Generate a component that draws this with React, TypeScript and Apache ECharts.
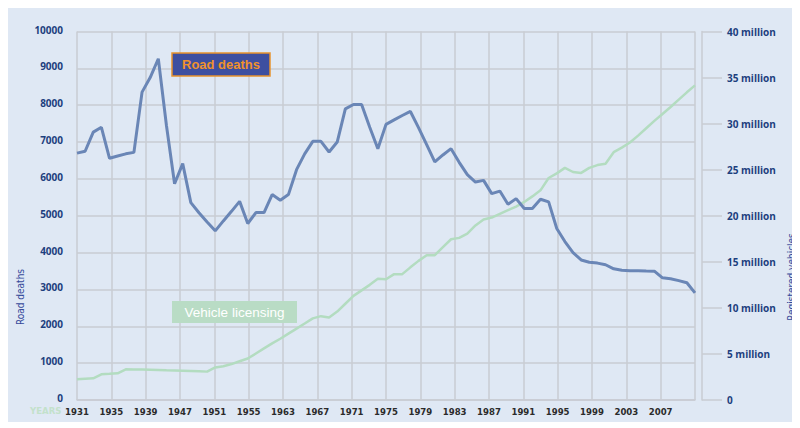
import React, { useEffect, useRef } from "react";
import * as echarts from "echarts";

// Yearly categories (data points)
const years: string[] = Array.from({ length: 77 }, (_, i) => String(1931 + i));

// Tick labels as printed on the reference's horizontal axis
const xTickLabels = [
  "1931", "1935", "1939", "1947", "1951", "1955", "1963", "1967", "1971", "1975",
  "1979", "1983", "1987", "1991", "1995", "1999", "2003", "2007", "",
];

// Road deaths (left axis), 1931–2007
const roadDeaths = [
  6700, 6750, 7270, 7400, 6560, 6620, 6680, 6720, 8355, 8750,
  9260, 7450, 5870, 6414, 5357, 5080, 4830, 4590, 4860, 5120,
  5390, 4790, 5085, 5085, 5574, 5420, 5574, 6250, 6680, 7019,
  7019, 6730, 7000, 7900, 8020, 8020, 7400, 6820, 7480, 7600,
  7720, 7830, 7390, 6930, 6460, 6650, 6820, 6450, 6115, 5915,
  5960, 5600, 5670, 5310, 5465, 5195, 5195, 5447, 5375, 4653,
  4300, 4000, 3800, 3740, 3715, 3670, 3560, 3520, 3510, 3505,
  3500, 3496, 3315, 3290, 3240, 3180, 2908,
];

// Registered vehicles in millions (right axis), 1931–2007
const vehiclesMillions = [
  2.24, 2.30, 2.35, 2.79, 2.84, 2.90, 3.33, 3.32, 3.30, 3.28,
  3.25, 3.22, 3.20, 3.17, 3.14, 3.11, 3.08, 3.54, 3.66, 3.90,
  4.20, 4.50, 5.05, 5.60, 6.15, 6.65, 7.20, 7.75, 8.30, 8.86,
  9.10, 8.96, 9.60, 10.45, 11.30, 11.90, 12.50, 13.15, 13.10, 13.66,
  13.66, 14.40, 15.10, 15.72, 15.72, 16.60, 17.45, 17.60, 18.05, 18.95,
  19.60, 19.80, 20.20, 20.60, 21.00, 21.50, 22.10, 22.76, 24.10, 24.60,
  25.20, 24.75, 24.65, 25.20, 25.50, 25.65, 26.90, 27.40, 27.95, 28.70,
  29.50, 30.30, 31.05, 31.80, 32.60, 33.40, 34.15,
];

const NAVY = "#1d3f7e";
const GRID = "#c9ccd3";
const FONT = "'Open Sans', 'DejaVu Sans', sans-serif";
const NARROW = "'Liberation Sans Narrow', 'DejaVu Sans Condensed', 'Open Sans', sans-serif";

export default function App() {
  const ref = useRef<HTMLDivElement>(null);

  useEffect(() => {
    if (!ref.current) return;
    const chart = echarts.init(ref.current, undefined, { renderer: "svg" });
    chart.setOption({
      animation: false,
      backgroundColor: "#dfe8f4",
      textStyle: { fontFamily: FONT },
      grid: { left: 69, right: 105, top: 23.5, bottom: 22, containLabel: false },
      xAxis: [
        {
          type: "category",
          data: years,
          boundaryGap: false,
          show: false,
        },
        {
          type: "category",
          data: xTickLabels,
          boundaryGap: false,
          position: "bottom",
          axisLine: { show: true, lineStyle: { color: GRID, width: 1.5 } },
          axisTick: { show: false },
          splitLine: { show: true, interval: 0, lineStyle: { color: GRID, width: 1.5 } },
          axisLabel: {
            interval: 0,
            margin: 6,
            color: "#2b2b2b",
            fontSize: 9.5,
            fontWeight: "bold",
            fontFamily: NARROW,
          },
        },
      ],
      yAxis: [
        {
          type: "value",
          min: 0,
          max: 10000,
          interval: 1000,
          axisLine: { show: false },
          axisTick: { show: false },
          splitLine: { show: true, lineStyle: { color: GRID, width: 1.5 } },
          axisLabel: {
            margin: 14,
            color: NAVY,
            fontSize: 10,
            fontWeight: "bold",
            formatter: (v: number) => String(v),
            verticalAlign: "bottom",
            padding: [0, 0, -3, 0],
          },
        },
        {
          type: "value",
          min: 0,
          max: 40,
          interval: 5,
          position: "right",
          offset: 7,
          axisLine: { show: true, lineStyle: { color: GRID, width: 1.5 } },
          axisTick: { show: true, length: 20, lineStyle: { color: GRID, width: 1.5 } },
          splitLine: { show: false },
          axisLabel: {
            margin: 25,
            color: NAVY,
            fontSize: 10,
            fontWeight: "bold",
            formatter: (v: number) => (v === 0 ? "0" : `${v} million`),
          },
        },
      ],
      series: [
        {
          name: "Vehicle licensing",
          type: "line",
          xAxisIndex: 0,
          yAxisIndex: 1,
          data: vehiclesMillions,
          symbol: "none",
          lineStyle: { color: "#b3dcc0", width: 2.5 },
          z: 2,
        },
        {
          name: "Road deaths",
          type: "line",
          xAxisIndex: 0,
          yAxisIndex: 0,
          data: roadDeaths,
          symbol: "none",
          lineStyle: { color: "#6a86b6", width: 3 },
          z: 3,
        },
      ],
      graphic: [
        {
          type: "text",
          left: 22,
          top: 397,
          style: {
            text: "YEARS",
            fill: "#c3e1cb",
            fontSize: 9.5,
            fontWeight: "bold",
            fontFamily: NARROW,
          },
        },
        {
          type: "text",
          x: 12,
          y: 289,
          rotation: Math.PI / 2,
          style: {
            text: "Road deaths",
            fill: "#34499a",
            fontSize: 10,
            fontFamily: NARROW,
            align: "center",
            verticalAlign: "middle",
          },
        },
        {
          type: "text",
          x: 783,
          y: 269,
          rotation: Math.PI / 2,
          style: {
            text: "Registered vehicles",
            fill: "#34499a",
            fontSize: 10,
            fontFamily: NARROW,
            align: "center",
            verticalAlign: "middle",
          },
          z: 20,
        },
        {
          type: "rect",
          shape: { x: 164, y: 45, width: 98, height: 23 },
          style: { fill: "#3d4fa0", stroke: "#e8922c", lineWidth: 1.5 },
          z: 10,
        },
        {
          type: "text",
          x: 213,
          y: 56.5,
          style: {
            text: "Road deaths",
            fill: "#f0922c",
            fontSize: 13,
            fontWeight: "bold",
            align: "center",
            verticalAlign: "middle",
          },
          z: 11,
        },
        {
          type: "rect",
          shape: { x: 164, y: 293, width: 125, height: 22 },
          style: { fill: "#b9dcc5" },
          z: 10,
        },
        {
          type: "text",
          x: 226.5,
          y: 304,
          style: {
            text: "Vehicle licensing",
            fill: "#ffffff",
            fontSize: 13.5,
            align: "center",
            verticalAlign: "middle",
          },
          z: 11,
        },
      ],
    });
    return () => chart.dispose();
  }, []);

  return <div ref={ref} style={{ width: 792, height: 414 }} />;
}
